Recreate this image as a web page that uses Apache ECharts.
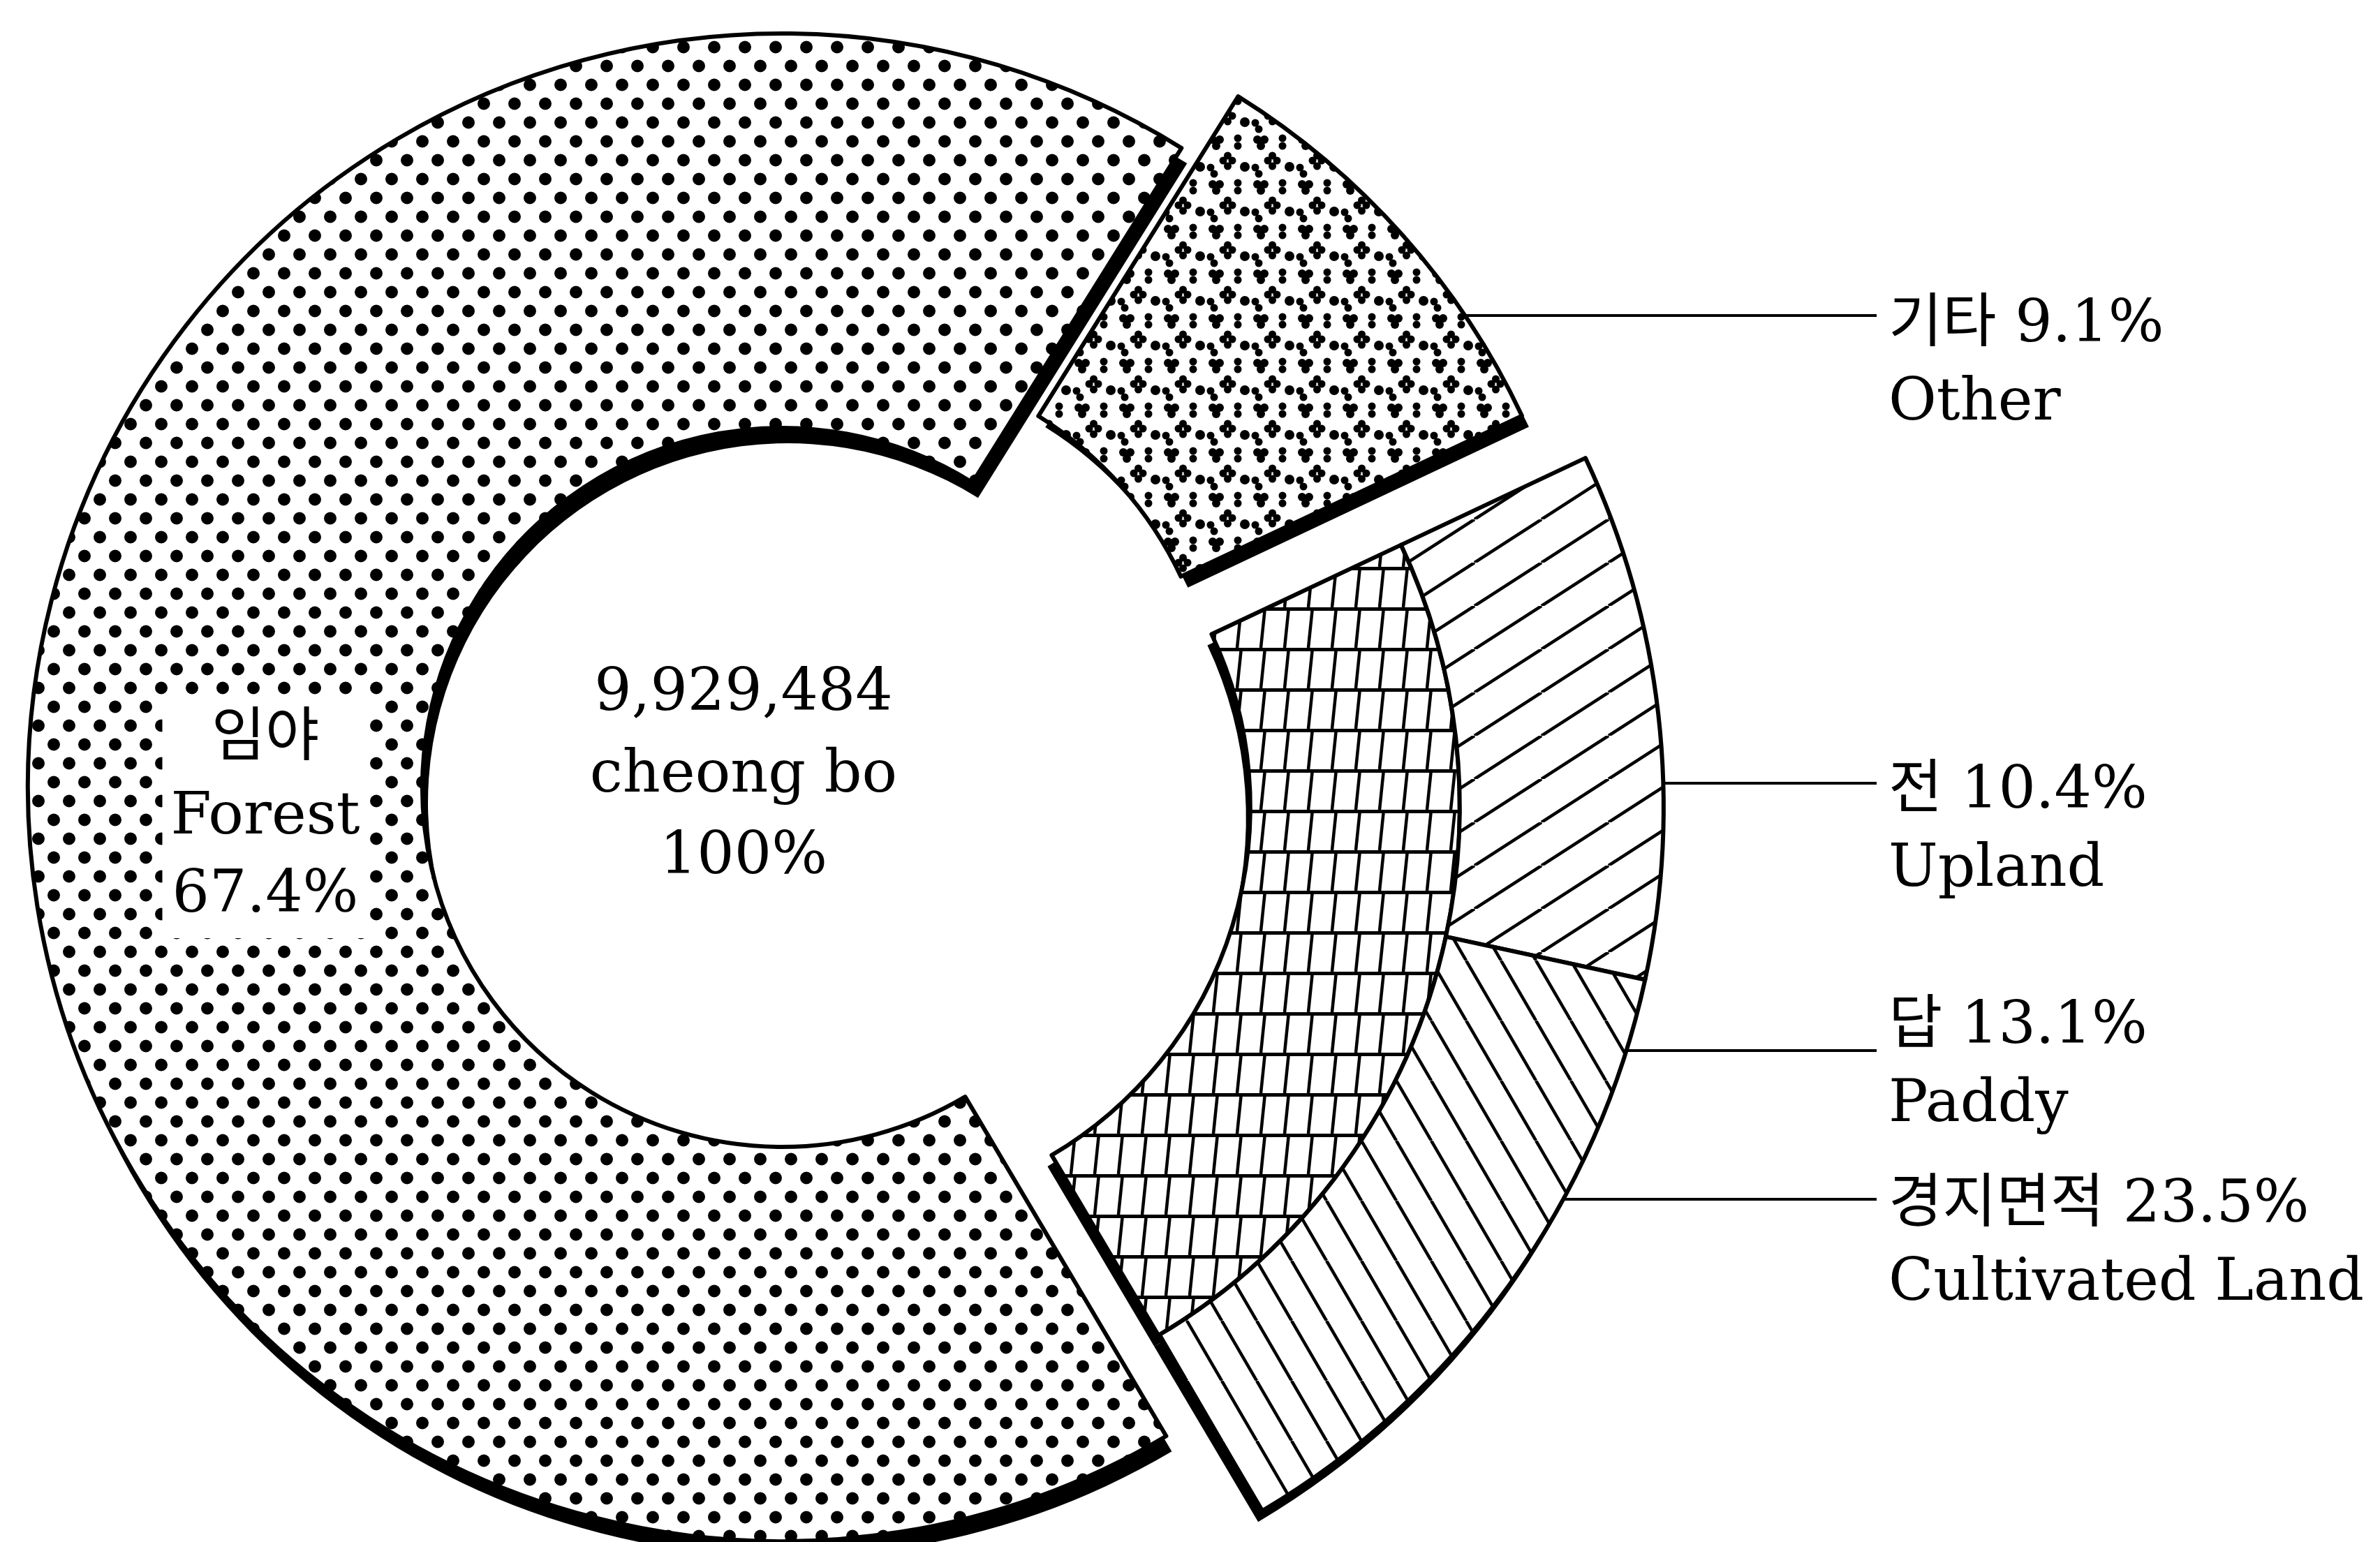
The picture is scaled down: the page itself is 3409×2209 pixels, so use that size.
<!DOCTYPE html>
<html>
<head>
  <meta charset="UTF-8">
  <title>토지 이용 현황</title>
  <script src="https://cdn.jsdelivr.net/npm/echarts@6/dist/echarts.min.js"></script>
  <style>
    html, body { margin: 0; width: 100%; height: 100%; background: #fff; }
    #chart { width: 3409px; height: 2209px; }
  </style>
</head>
<body>
  <div id="chart"></div>
  <script>
    // 토지 구성 (%)
    const landKo = ['기타', '경지면적', '임야'];
    const landEn = ['Other', 'Cultivated Land', 'Forest'];
    const landShare = [9.1, 23.5, 67.4];
    // 경지면적 내역 (%)
    const cropKo = ['전', '답'];
    const cropEn = ['Upland', 'Paddy'];
    const cropShare = [10.4, 13.1];
    // 총면적
    const totalArea = 9929484;
    const totalUnit = 'cheong bo';
    const totalShare = 100;

    const font = "'DejaVu Serif', 'Noto Sans CJK KR', serif";

    // 흑백 무늬
    function tile(w, h, draw) {
      const c = document.createElement('canvas');
      c.width = w; c.height = h;
      const g = c.getContext('2d');
      g.fillStyle = '#fff';
      g.fillRect(0, 0, w, h);
      g.fillStyle = '#000';
      g.strokeStyle = '#000';
      draw(g, w, h);
      return { image: c, repeat: 'repeat' };
    }
    function dot(g, x, y, r) {
      g.beginPath(); g.arc(x, y, r, 0, Math.PI * 2); g.fill();
    }
    function seg(g, x1, y1, x2, y2, lw) {
      g.lineWidth = lw;
      g.beginPath(); g.moveTo(x1, y1); g.lineTo(x2, y2); g.stroke();
    }

    const dotsFill = tile(44, 54, g => { dot(g, 11, 13.5, 9); dot(g, 33, 40.5, 9); });
    const blobFill = tile(64, 64, g => {
      dot(g, 9, 8, 6); dot(g, 19, 8, 6); dot(g, 14, 17, 6);
      dot(g, 45, 6, 5.5); dot(g, 45, 17, 5.5);
      dot(g, 24, 38, 5.5); dot(g, 37, 38, 5.5); dot(g, 30.5, 31, 5.5); dot(g, 30.5, 46, 5.5);
      dot(g, 55, 47, 7);
      dot(g, 6, 48, 5.5); dot(g, 11, 57, 5.5);
    });
    const gridFill = tile(34, 58, g => { g.fillRect(0, 0, 34, 5); seg(g, 10, 0, 4, 58, 4.5); });
    const upFill = tile(96, 62, (g, w, h) => { [-w, 0, w].forEach(dx => seg(g, dx, h, dx + w, 0, 4.5)); });
    const downFill = tile(50, 86, (g, w, h) => { [-w, 0, w].forEach(dx => seg(g, dx, 0, dx + w, h, 4.5)); });

    // 배치
    const START = 58;
    const mainCenter = [1120, 1128];
    const deg = Math.PI / 180;
    function shift(c, a, d) { return [c[0] + d * Math.cos(a * deg), c[1] - d * Math.sin(a * deg)]; }
    function nudge(c, dx, dy) { return [c[0] + dx, c[1] + dy]; }
    const otherMid = START - landShare[0] * 1.8;
    const cultMid = START - (landShare[0] + landShare[1] / 2) * 3.6;
    const otherCenter = shift(mainCenter, otherMid, 105);
    const cultCenter = shift(mainCenter, cultMid, 95);

    const forestR = [515, 1080];
    const otherR = [545, 1085];
    const cultR = [580, 880];
    const cropR = [880, 1172];

    const TEXT_X = 2705, LINE_END = 2688, LINE_H = 112;
    function leader(from, lineY, textMid) {
      return {
        x: TEXT_X, y: textMid - LINE_H / 2, align: 'left', verticalAlign: 'top',
        labelLinePoints: [[from, lineY], [(from + LINE_END) / 2, lineY], [LINE_END, lineY]]
      };
    }

    const blank = 'rgba(0,0,0,0)';
    function gap(v) {
      return {
        value: v, name: '',
        itemStyle: { color: blank, borderWidth: 0 },
        label: { show: false }, labelLine: { show: false }
      };
    }
    function outline(fill) {
      return { color: fill, borderColor: '#000', borderWidth: 6 };
    }
    const labelRich = {
      k: { fontSize: 84, fontFamily: font, color: '#000', lineHeight: LINE_H },
      e: { fontSize: 84, fontFamily: font, color: '#000', lineHeight: LINE_H }
    };
    function outsideLabel(ko, en, share) {
      return { show: true, position: 'outside', formatter: `{k|${ko} ${share}%}\n{e|${en}}`, rich: labelRich };
    }
    const baseSeries = {
      type: 'pie',
      startAngle: START,
      clockwise: true,
      avoidLabelOverlap: false,
      emphasis: { disabled: true },
      labelLine: { show: true, length: 10, length2: 10, lineStyle: { color: '#000', width: 4 } }
    };

    // 그림자: 같은 조각을 조금 밀어 검게 칠함
    function shadow(center, radius, values, solid) {
      return Object.assign({}, baseSeries, {
        silent: true,
        center: center,
        radius: radius,
        label: { show: false },
        labelLine: { show: false },
        data: values.map((v, i) => solid.includes(i)
          ? { value: v, itemStyle: { color: '#000', borderWidth: 0 } }
          : gap(v))
      });
    }

    const chart = echarts.init(document.getElementById('chart'));
    chart.setOption({
      animation: false,
      backgroundColor: '#fff',
      graphic: [{
        type: 'text',
        x: 1065, y: 1112,
        style: {
          text: `${totalArea.toLocaleString('en-US')}\n${totalUnit}\n${totalShare}%`,
          fontSize: 84, fontFamily: font, fill: '#000',
          align: 'center', textAlign: 'center', verticalAlign: 'middle', textVerticalAlign: 'middle',
          lineHeight: 117
        }
      }],
      series: [
        shadow(nudge(mainCenter, 8, 22), forestR, landShare, [2]),
        shadow(nudge(otherCenter, 10, 16), otherR, landShare, [0]),
        shadow(nudge(cultCenter, -6, 16), cultR, landShare, [1]),
        shadow(nudge(cultCenter, -6, 16), cropR, [landShare[0]].concat(cropShare, [landShare[2]]), [1, 2]),
        Object.assign({}, baseSeries, {
          name: 'forest',
          center: mainCenter,
          radius: forestR,
          data: [gap(landShare[0]), gap(landShare[1]), {
            value: landShare[2], name: landEn[2],
            itemStyle: outline(dotsFill),
            label: {
              show: true, position: 'inside',
              formatter: `${landKo[2]}\n${landEn[2]}\n${landShare[2]}%`,
              fontSize: 84, fontFamily: font, color: '#000', lineHeight: LINE_H,
              backgroundColor: '#fff', padding: [4, 12]
            },
            labelLine: { show: false }
          }],
          labelLayout: p => p.dataIndex === 2 ? { x: 380, y: 1172, align: 'center', verticalAlign: 'middle' } : {}
        }),
        Object.assign({}, baseSeries, {
          name: 'other',
          center: otherCenter,
          radius: otherR,
          data: [{
            value: landShare[0], name: landEn[0],
            itemStyle: outline(blobFill),
            label: outsideLabel(landKo[0], landEn[0], landShare[0])
          }, gap(landShare[1]), gap(landShare[2])],
          labelLayout: p => p.dataIndex === 0 ? leader(2061, 452, 467) : {}
        }),
        Object.assign({}, baseSeries, {
          name: 'cultivated',
          center: cultCenter,
          radius: cultR,
          data: [gap(landShare[0]), {
            value: landShare[1], name: landEn[1],
            itemStyle: outline(gridFill),
            label: outsideLabel(landKo[1], landEn[1], landShare[1])
          }, gap(landShare[2])],
          labelLayout: p => p.dataIndex === 1 ? leader(1976, 1718, 1728) : {}
        }),
        Object.assign({}, baseSeries, {
          name: 'crops',
          center: cultCenter,
          radius: cropR,
          data: [gap(landShare[0]), {
            value: cropShare[0], name: cropEn[0],
            itemStyle: outline(upFill),
            label: outsideLabel(cropKo[0], cropEn[0], cropShare[0])
          }, {
            value: cropShare[1], name: cropEn[1],
            itemStyle: outline(downFill),
            label: outsideLabel(cropKo[1], cropEn[1], cropShare[1])
          }, gap(landShare[2])],
          labelLayout: p => {
            if (p.dataIndex === 1) return leader(2385, 1122, 1135);
            if (p.dataIndex === 2) return leader(2300, 1505, 1472);
            return {};
          }
        })
      ]
    });
    window.addEventListener('resize', () => chart.resize());
  </script>
</body>
</html>
